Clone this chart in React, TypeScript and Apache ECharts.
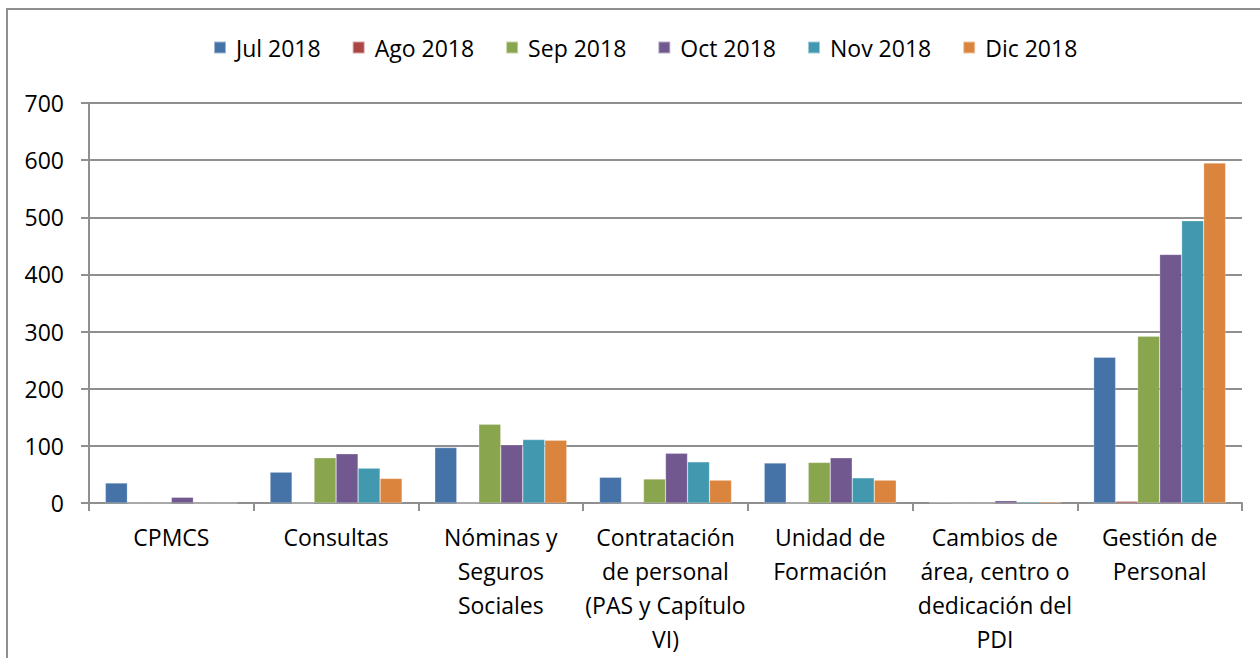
import React, { useEffect, useRef } from "react";
import * as echarts from "echarts";

const categories = [
  "CPMCS",
  "Consultas",
  "Nóminas y\nSeguros\nSociales",
  "Contratación\nde personal\n(PAS y Capítulo\nVI)",
  "Unidad de\nFormación",
  "Cambios de\nárea, centro o\ndedicación del\nPDI",
  "Gestión de\nPersonal",
];

const seriesNames = ["Jul 2018", "Ago 2018", "Sep 2018", "Oct 2018", "Nov 2018", "Dic 2018"];
const colors = ["#4572A7", "#AA4643", "#89A54E", "#71588F", "#4198AF", "#DB843D"];

const jul2018 = [35, 54, 97, 45, 70, 1, 255];
const ago2018 = [0, 0, 0, 0, 0, 0, 3];
const sep2018 = [0, 79, 138, 42, 71, 0, 292];
const oct2018 = [10, 86, 102, 87, 79, 4, 435];
const nov2018 = [0, 61, 111, 72, 44, 2, 494];
const dic2018 = [0, 43, 110, 40, 40, 2, 595];

const yTicks = { min: 0, max: 700, interval: 100 };

const FONT = "Open Sans";

export default function App() {
  const ref = useRef<HTMLDivElement>(null);
  useEffect(() => {
    if (!ref.current) return;
    const chart = echarts.init(ref.current, undefined, { renderer: "svg" });
    const values = [jul2018, ago2018, sep2018, oct2018, nov2018, dic2018];
    chart.setOption({
      animation: false,
      color: colors,
      textStyle: { fontFamily: FONT, color: "#000" },
      graphic: [
        {
          type: "rect",
          shape: { x: 7, y: 9, width: 1300, height: 700 },
          style: { fill: "none", stroke: "#8f8f8f", lineWidth: 2 },
          silent: true,
        },
      ],
      legend: {
        top: 31,
        left: 208,
        itemWidth: 12,
        itemHeight: 12,
        itemGap: 31,
        icon: "rect",
        textStyle: { fontFamily: FONT, fontSize: 23, color: "#000", padding: [0, 0, 0, 5] },
        data: seriesNames,
      },
      grid: { left: 89, right: 18, top: 103, bottom: 155, containLabel: false },
      xAxis: {
        type: "category",
        data: categories,
        axisLine: { show: true, lineStyle: { color: "#8f8f8f", width: 2 } },
        axisTick: { show: true, length: 8, lineStyle: { color: "#8f8f8f", width: 2 } },
        axisLabel: {
          interval: 0,
          fontFamily: FONT,
          fontSize: 23,
          color: "#000",
          lineHeight: 34,
          margin: 17,
        },
        splitLine: { show: false },
      },
      yAxis: {
        type: "value",
        min: yTicks.min,
        max: yTicks.max,
        interval: yTicks.interval,
        axisLine: { show: true, lineStyle: { color: "#8f8f8f", width: 2 } },
        axisTick: { show: true, length: 8, lineStyle: { color: "#8f8f8f", width: 2 } },
        axisLabel: { fontFamily: FONT, fontSize: 23, color: "#000", margin: 25 },
        splitLine: { show: true, lineStyle: { color: "#8f8f8f", width: 2 } },
      },
      series: seriesNames.map((name, i) => ({
        name,
        type: "bar",
        data: values[i],
        barWidth: 22,
        barGap: "0%",
        itemStyle: { color: colors[i], borderColor: "rgba(255,255,255,0.5)", borderWidth: 0.5 },
      })),
    });
    return () => chart.dispose();
  }, []);
  return <div ref={ref} style={{ width: 1260, height: 658, position: "absolute", left: 0, top: 0 }} />;
}
